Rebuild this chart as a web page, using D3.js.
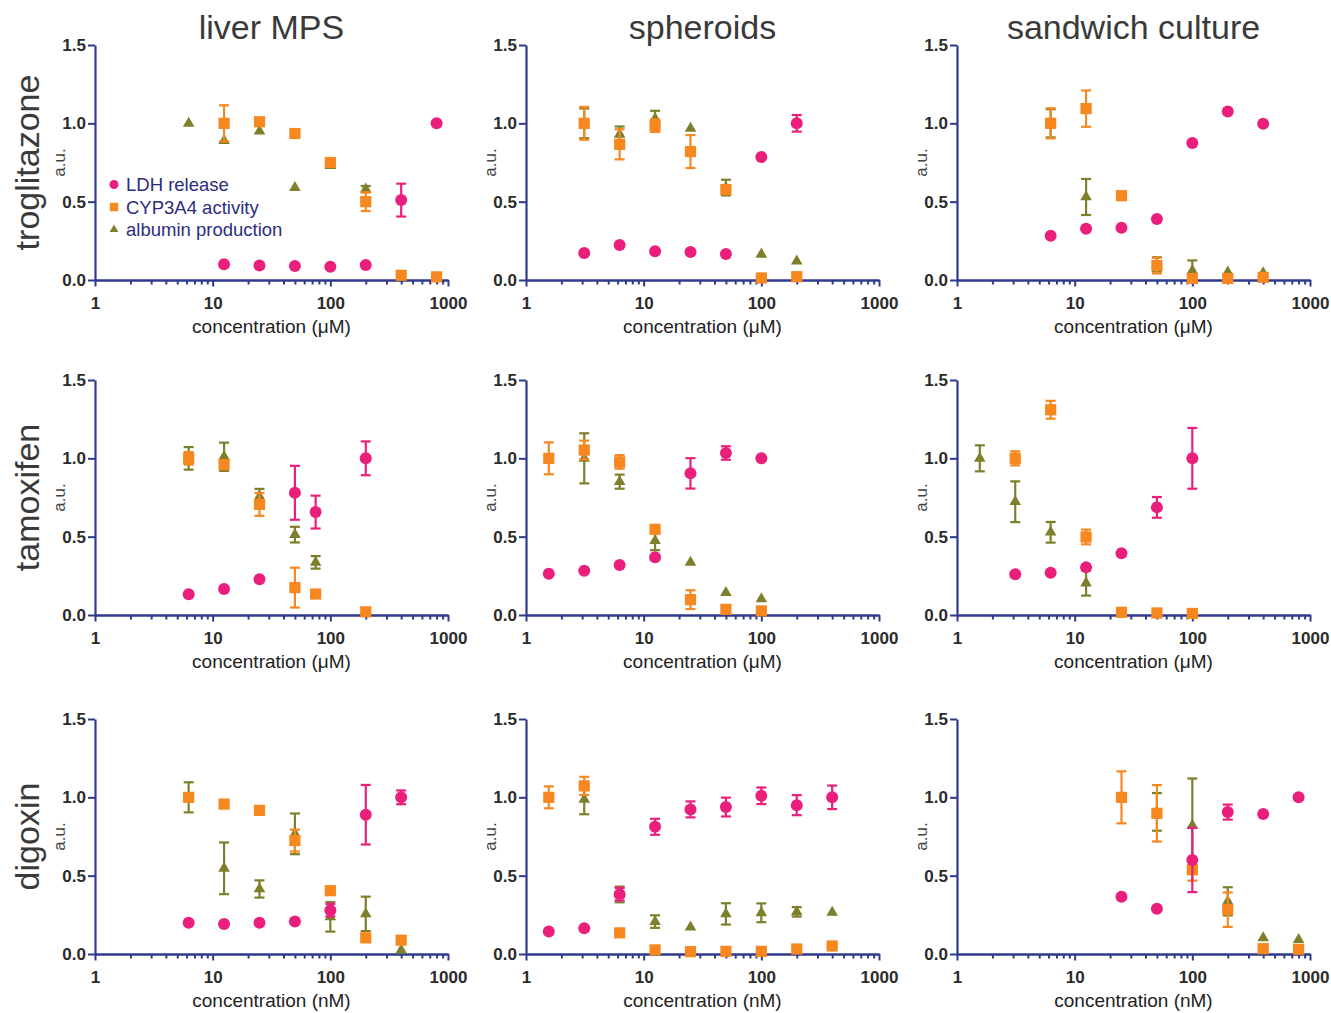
<!DOCTYPE html>
<html>
<head>
<meta charset="utf-8">
<script src="https://cdn.jsdelivr.net/npm/d3@7"></script>
<style>
  body { margin: 0; background: #fff; }
  svg { display: block; font-family: "Liberation Sans", Arial, sans-serif; }
</style>
</head>
<body>
<svg width="1331" height="1013"></svg>
<script>
// ---- data ----
var columnTitles = ["liver MPS", "spheroids", "sandwich culture"];
var rowTitles = ["troglitazone", "tamoxifen", "digoxin"];
var rowUnits = ["concentration (μM)", "concentration (μM)", "concentration (nM)"];
var seriesNames = ["LDH release", "CYP3A4 activity", "albumin production"];
var xTicks = [1, 10, 100, 1000];
var yTicks = [0, 0.5, 1.0, 1.5];

// troglitazone / liver MPS
var trogMpsConc = [6.25, 12.5, 25, 50, 100, 200, 400, 800];
var trogMpsLdh = [null, 0.10, 0.092, 0.09, 0.085, 0.095, 0.51, 1.0];
var trogMpsLdhErr = [0, 0, 0, 0, 0, 0, 0.105, 0];
var trogMpsCyp = [null, 1.0, 1.01, 0.935, 0.75, 0.50, 0.03, 0.02];
var trogMpsCypErr = [0, 0.115, 0, 0.015, 0.01, 0.06, 0, 0];
var trogMpsAlb = [1.0, 0.89, 0.95, 0.59, 0.73, 0.58, null, null];
var trogMpsAlbErr = [0, 0, 0, 0, 0, 0.02, 0, 0];

// troglitazone / spheroids
var trogSphConc = [3.125, 6.25, 12.5, 25, 50, 100, 200];
var trogSphLdh = [0.172, 0.223, 0.183, 0.179, 0.166, 0.785, 1.0];
var trogSphLdhErr = [0, 0, 0, 0, 0, 0, 0.053];
var trogSphCyp = [1.0, 0.866, 0.985, 0.82, 0.577, 0.013, 0.021];
var trogSphCypErr = [0.105, 0.096, 0.04, 0.105, 0.02, 0, 0];
var trogSphAlb = [1.0, 0.93, 1.03, 0.968, 0.59, 0.164, 0.12];
var trogSphAlbErr = [0.095, 0.05, 0.05, 0, 0.05, 0, 0];

// troglitazone / sandwich culture
var trogSanConc = [6.25, 12.5, 25, 50, 100, 200, 400];
var trogSanLdh = [0.282, 0.327, 0.333, 0.389, 0.874, 1.075, 0.998];
var trogSanLdhErr = [0, 0, 0, 0, 0, 0, 0];
var trogSanCyp = [1.0, 1.094, 0.538, 0.092, 0.01, 0.01, 0.017];
var trogSanCypErr = [0.096, 0.116, 0, 0.05, 0, 0, 0];
var trogSanAlb = [1.0, 0.53, null, 0.1, 0.06, 0.05, 0.045];
var trogSanAlbErr = [0.09, 0.115, 0, 0.045, 0.065, 0, 0];

// tamoxifen / liver MPS
var tamMpsConc = [6.25, 12.5, 25, 50, 75, 200];
var tamMpsLdh = [0.132, 0.166, 0.228, 0.78, 0.657, 1.0];
var tamMpsLdhErr = [0, 0, 0, 0.172, 0.105, 0.108];
var tamMpsCyp = [1.0, 0.96, 0.706, 0.175, 0.134, 0.02];
var tamMpsCypErr = [0.04, 0, 0.073, 0.127, 0, 0];
var tamMpsAlb = [1.0, 1.01, 0.755, 0.513, 0.336, null];
var tamMpsAlbErr = [0.072, 0.09, 0.05, 0.05, 0.04, 0];

// tamoxifen / spheroids
var tamSphConc = [1.5625, 3.125, 6.25, 12.5, 25, 50, 100];
var tamSphLdh = [0.264, 0.283, 0.319, 0.368, 0.904, 1.034, 1.0];
var tamSphLdhErr = [0, 0, 0, 0, 0.097, 0.043, 0];
var tamSphCyp = [1.0, 1.053, 0.977, 0.547, 0.098, 0.036, 0.026];
var tamSphCypErr = [0.102, 0.06, 0.043, 0, 0.06, 0, 0];
var tamSphAlb = [null, 1.0, 0.851, 0.474, 0.336, 0.143, 0.102];
var tamSphAlbErr = [0, 0.16, 0.045, 0.06, 0, 0, 0];

// tamoxifen / sandwich culture
var tamSanConc = [1.5625, 3.125, 6.25, 12.5, 25, 50, 100];
var tamSanLdh = [null, 0.26, 0.27, 0.304, 0.394, 0.687, 1.0];
var tamSanLdhErr = [0, 0, 0, 0, 0, 0.066, 0.194];
var tamSanCyp = [null, 1.0, 1.31, 0.498, 0.017, 0.013, 0.01];
var tamSanCypErr = [0, 0.045, 0.057, 0.047, 0, 0, 0];
var tamSanAlb = [1.0, 0.723, 0.528, 0.204, 0.01, null, null];
var tamSanAlbErr = [0.083, 0.13, 0.066, 0.08, 0, 0, 0];

// digoxin / liver MPS
var digMpsConc = [6.25, 12.5, 25, 50, 100, 200, 400];
var digMpsLdh = [0.20, 0.192, 0.199, 0.207, 0.28, 0.889, 1.0];
var digMpsLdhErr = [0, 0, 0, 0, 0.04, 0.19, 0.044];
var digMpsCyp = [1.0, 0.957, 0.917, 0.724, 0.404, 0.103, 0.088];
var digMpsCypErr = [0, 0, 0, 0.07, 0, 0, 0];
var digMpsAlb = [1.0, 0.547, 0.415, 0.767, 0.237, 0.256, 0.024];
var digMpsAlbErr = [0.096, 0.165, 0.055, 0.13, 0.094, 0.11, 0];

// digoxin / spheroids
var digSphConc = [1.5625, 3.125, 6.25, 12.5, 25, 50, 100, 200, 400];
var digSphLdh = [0.143, 0.165, 0.382, 0.812, 0.923, 0.938, 1.01, 0.95, 1.0];
var digSphLdhErr = [0, 0, 0.04, 0.051, 0.051, 0.06, 0.053, 0.064, 0.075];
var digSphCyp = [1.0, 1.073, 0.135, 0.026, 0.015, 0.017, 0.017, 0.032, 0.051];
var digSphCypErr = [0.07, 0.058, 0, 0, 0, 0, 0, 0, 0];
var digSphAlb = [null, 0.987, 0.38, 0.207, 0.171, 0.256, 0.263, 0.269, 0.265];
var digSphAlbErr = [0, 0.095, 0.05, 0.04, 0, 0.068, 0.06, 0.03, 0];

// digoxin / sandwich culture
var digSanConc = [25, 50, 100, 200, 400, 800];
var digSanLdh = [0.366, 0.289, 0.6, 0.906, 0.894, 1.0];
var digSanLdhErr = [0, 0, 0.205, 0.048, 0, 0];
var digSanCyp = [1.0, 0.898, 0.538, 0.283, 0.034, 0.03];
var digSanCypErr = [0.166, 0.18, 0.07, 0.11, 0, 0];
var digSanAlb = [null, 0.907, 0.82, 0.336, 0.102, 0.091];
var digSanAlbErr = [0, 0.12, 0.3, 0.09, 0, 0];

// panels, row by row
var panels = [
    [trogMpsConc, trogMpsLdh, trogMpsLdhErr, trogMpsCyp, trogMpsCypErr, trogMpsAlb, trogMpsAlbErr],
    [trogSphConc, trogSphLdh, trogSphLdhErr, trogSphCyp, trogSphCypErr, trogSphAlb, trogSphAlbErr],
    [trogSanConc, trogSanLdh, trogSanLdhErr, trogSanCyp, trogSanCypErr, trogSanAlb, trogSanAlbErr],
    [tamMpsConc, tamMpsLdh, tamMpsLdhErr, tamMpsCyp, tamMpsCypErr, tamMpsAlb, tamMpsAlbErr],
    [tamSphConc, tamSphLdh, tamSphLdhErr, tamSphCyp, tamSphCypErr, tamSphAlb, tamSphAlbErr],
    [tamSanConc, tamSanLdh, tamSanLdhErr, tamSanCyp, tamSanCypErr, tamSanAlb, tamSanAlbErr],
    [digMpsConc, digMpsLdh, digMpsLdhErr, digMpsCyp, digMpsCypErr, digMpsAlb, digMpsAlbErr],
    [digSphConc, digSphLdh, digSphLdhErr, digSphCyp, digSphCypErr, digSphAlb, digSphAlbErr],
    [digSanConc, digSanLdh, digSanLdhErr, digSanCyp, digSanCypErr, digSanAlb, digSanAlbErr]
];

// ---- layout ----
var svg = d3.select("svg");
var colX = [95, 526, 957],
    rowY = [45, 380, 719],
    plotW = 353,
    plotH = 235;

var axisColor = "#2f3a8c";
var colors = ["#ea1f7c", "#f7871f", "#7d7f2b"];

var minorTicks = [];
[1, 10, 100].forEach(function (dec) {
    for (var k = 2; k <= 9; k++) minorTicks.push(dec * k);
});

function drawMarker(g, kind, cx, cy, color, scale) {
    var s = scale || 1;
    if (kind === 0) {
        g.append("circle").attr("cx", cx).attr("cy", cy).attr("r", 6 * s).attr("fill", color);
    } else if (kind === 1) {
        g.append("rect").attr("x", cx - 5.6 * s).attr("y", cy - 5.6 * s)
            .attr("width", 11.2 * s).attr("height", 11.2 * s).attr("fill", color);
    } else {
        g.append("path").attr("d", d3.symbol().type(d3.symbolTriangle).size(58 * s * s)())
            .attr("transform", "translate(" + cx + "," + cy + ")").attr("fill", color);
    }
}

// column titles
columnTitles.forEach(function (t, c) {
    svg.append("text")
        .attr("x", colX[c] + plotW / 2)
        .attr("y", 39)
        .attr("text-anchor", "middle")
        .attr("font-size", 34)
        .attr("fill", "#3a3a3a")
        .text(t);
});

// row titles
rowTitles.forEach(function (t, r) {
    svg.append("text")
        .attr("transform", "translate(39," + (rowY[r] + plotH / 2) + ") rotate(-90)")
        .attr("text-anchor", "middle")
        .attr("font-size", 34)
        .attr("fill", "#3a3a3a")
        .text(t);
});

panels.forEach(function (p, i) {
    var r = Math.floor(i / 3), c = i % 3;
    var x = d3.scaleLog().domain([1, 1000]).range([colX[c], colX[c] + plotW]);
    var y = d3.scaleLinear().domain([0, 1.5]).range([rowY[r] + plotH, rowY[r]]);
    var g = svg.append("g");

    // axes
    var xMinor = g.append("g")
        .attr("transform", "translate(0," + y(0) + ")")
        .call(d3.axisBottom(x).tickValues(minorTicks).tickSize(4.5).tickSizeOuter(0).tickFormat(""));
    var xAxis = g.append("g")
        .attr("transform", "translate(0," + y(0) + ")")
        .call(d3.axisBottom(x).tickValues(xTicks).tickSize(6.5).tickSizeOuter(0)
            .tickFormat(d3.format("d")).tickPadding(10));
    var yAxis = g.append("g")
        .attr("transform", "translate(" + x(1) + ",0)")
        .call(d3.axisLeft(y).tickValues(yTicks).tickSize(7).tickSizeOuter(0)
            .tickFormat(d3.format(".1f")).tickPadding(2));

    [xMinor, xAxis, yAxis].forEach(function (a) {
        a.select(".domain").attr("stroke", axisColor).attr("stroke-width", 2.2);
        a.selectAll(".tick line").attr("stroke", axisColor).attr("stroke-width", 2);
        a.selectAll(".tick text")
            .attr("fill", "#2b2b2b")
            .attr("font-size", 17)
            .attr("font-weight", "bold")
            .attr("font-family", "Liberation Sans, Arial, sans-serif");
    });

    g.append("text")
        .attr("x", colX[c] + plotW / 2)
        .attr("y", y(0) + 53)
        .attr("text-anchor", "middle")
        .attr("font-size", 19)
        .attr("fill", "#222")
        .text(rowUnits[r]);

    g.append("text")
        .attr("transform", "translate(" + (colX[c] - 30) + "," + (rowY[r] + plotH / 2) + ") rotate(-90)")
        .attr("text-anchor", "middle")
        .attr("font-size", 17)
        .attr("fill", "#444")
        .text("a.u.");

    // series: draw albumin first, LDH last (on top)
    var conc = p[0];
    [2, 1, 0].forEach(function (s) {
        var vals = p[1 + s * 2], errs = p[2 + s * 2];
        var sg = g.append("g");
        conc.forEach(function (cv, j) {
            var v = vals[j];
            if (v === null) return;
            var e = errs[j];
            var px = x(cv);
            if (e > 0) {
                sg.append("line").attr("x1", px).attr("x2", px)
                    .attr("y1", y(v - e)).attr("y2", y(v + e))
                    .attr("stroke", colors[s]).attr("stroke-width", 2.2);
                [v - e, v + e].forEach(function (ev) {
                    sg.append("line").attr("x1", px - 5).attr("x2", px + 5)
                        .attr("y1", y(ev)).attr("y2", y(ev))
                        .attr("stroke", colors[s]).attr("stroke-width", 2.2);
                });
            }
            drawMarker(sg, s, px, y(v), colors[s]);
        });
    });
});

// legend in the first panel
var legend = svg.append("g");
seriesNames.forEach(function (n, s) {
    var ly = 184.5 + s * 22.5;
    drawMarker(legend, s, 114, ly, colors[s], 0.75);
    legend.append("text")
        .attr("x", 126)
        .attr("y", ly + 6.5)
        .attr("font-size", 18.5)
        .attr("fill", "#2b2d7e")
        .text(n);
});
</script>
</body>
</html>
